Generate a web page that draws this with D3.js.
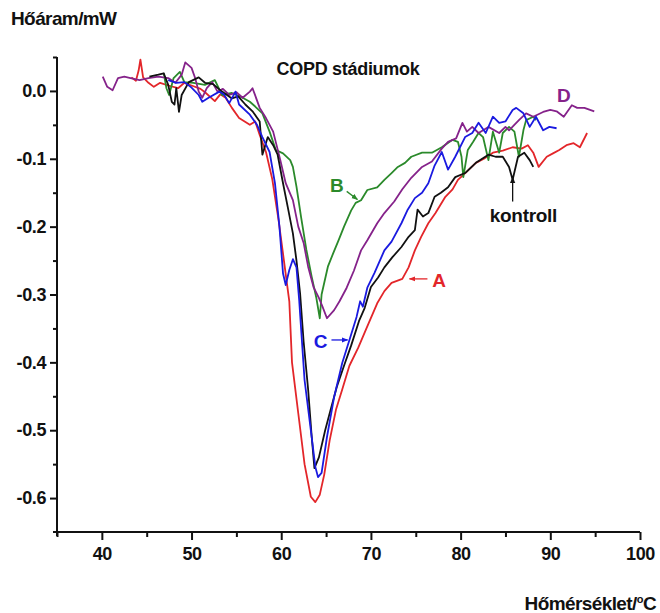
<!DOCTYPE html>
<html>
  <head>
    <meta charset="UTF-8">
    <script src="https://d3js.org/d3.v7.min.js"></script>
    <style>
      body { margin: 0; background: #fff; }
      text { font-family: "Liberation Sans", Arial, sans-serif; font-weight: bold; fill: #111; }
      .axis path, .axis line { stroke: #111; stroke-width: 2; }
      .series { fill: none; stroke-width: 1.8; stroke-linejoin: round; }
    </style>
    <title>COPD stádiumok</title>
  </head>
  <body>
    <svg id="chart" width="660" height="613"></svg>
    <script>
      // heat flow (mW) vs temperature (°C)
      const kontroll = [[45.3,0.021],[46.3,0.024],[46.9,0.026],[47.4,0.009],[47.8,-0.016],[48.1,-0.02],[48.3,0.004],[48.6,-0.031],[48.9,-0.006],[49.7,0.013],[50.8,0.02],[51.5,0.012],[52.4,0.01],[53.4,-0.001],[54.5,-0.011],[55.2,-0.008],[56,-0.02],[56.8,-0.03],[57.6,-0.045],[57.9,-0.094],[58.5,-0.068],[59.1,-0.08],[59.6,-0.094],[60.2,-0.136],[60.8,-0.176],[61.3,-0.21],[61.7,-0.25],[62.1,-0.298],[62.5,-0.37],[63,-0.44],[63.4,-0.51],[63.7,-0.556],[64.2,-0.54],[64.9,-0.5],[65.5,-0.47],[66.2,-0.436],[67,-0.405],[67.8,-0.375],[68.7,-0.338],[69.3,-0.32],[70,-0.289],[70.8,-0.275],[71.5,-0.26],[72.4,-0.245],[73.4,-0.23],[74.2,-0.215],[74.9,-0.205],[75.2,-0.175],[75.8,-0.185],[76.4,-0.18],[77.1,-0.156],[77.8,-0.15],[78.6,-0.142],[79.4,-0.127],[80.5,-0.121],[81.7,-0.106],[83.1,-0.094],[83.9,-0.097],[84.7,-0.097],[85.4,-0.112],[85.8,-0.131],[86.4,-0.097],[87.1,-0.091],[87.7,-0.102],[88.1,-0.112]];

      const stadiumA = [[43.3,0.02],[43.8,0.015],[44.1,0.03],[44.3,0.046],[44.6,0.02],[45.2,0.012],[45.8,0.006],[46.5,0.012],[47.4,0.008],[48.5,0.004],[49.2,0.012],[50,0.008],[51,0.003],[51.5,-0.002],[52.6,-0.015],[53.2,-0.005],[53.8,-0.01],[54.5,-0.025],[55.3,-0.04],[56.5,-0.05],[57.1,-0.045],[57.6,-0.065],[58.3,-0.09],[59,-0.13],[59.7,-0.19],[60.4,-0.26],[60.9,-0.31],[61.2,-0.4],[61.9,-0.475],[62.6,-0.55],[63.3,-0.598],[63.8,-0.606],[64.3,-0.595],[64.8,-0.565],[65.4,-0.515],[66.1,-0.47],[66.8,-0.44],[67.6,-0.405],[68.6,-0.378],[69.5,-0.35],[70.7,-0.313],[71.5,-0.295],[72.3,-0.283],[73.5,-0.277],[74.2,-0.26],[74.9,-0.235],[75.6,-0.215],[76.4,-0.195],[77.2,-0.18],[78.3,-0.156],[79.1,-0.145],[79.7,-0.131],[80.6,-0.12],[81.7,-0.106],[82.6,-0.1],[83.6,-0.091],[84.7,-0.088],[85.8,-0.083],[86.8,-0.085],[87.5,-0.08],[88.1,-0.091],[88.7,-0.112],[89.6,-0.097],[90.3,-0.092],[91,-0.087],[91.8,-0.08],[92.6,-0.077],[93.3,-0.083],[94.1,-0.062]];

      const stadiumB = [[46.9,0.026],[47.2,0.004],[47.5,-0.006],[48,0.019],[48.7,0.028],[49.2,0.013],[50.2,0.012],[51.5,0.009],[52.6,0.016],[53.4,-0.006],[54.5,-0.003],[55.7,-0.01],[56.5,-0.016],[57.1,-0.023],[57.9,-0.033],[58.7,-0.06],[59.4,-0.087],[60.2,-0.092],[61,-0.102],[61.3,-0.112],[61.7,-0.141],[62.2,-0.185],[62.8,-0.234],[63.4,-0.274],[63.9,-0.304],[64.3,-0.335],[64.5,-0.3],[65.2,-0.259],[65.8,-0.239],[66.4,-0.22],[67,-0.2],[67.8,-0.176],[68.3,-0.165],[68.9,-0.161],[69.6,-0.146],[70.7,-0.142],[71.5,-0.131],[72.3,-0.121],[73,-0.112],[73.8,-0.106],[74.5,-0.097],[75.7,-0.091],[76.8,-0.091],[77.9,-0.083],[79.1,-0.072],[79.7,-0.075],[80.1,-0.097],[80.3,-0.127],[80.8,-0.087],[81.4,-0.075],[82,-0.062],[82.5,-0.068],[83.1,-0.102],[83.6,-0.06],[84.3,-0.091],[84.7,-0.062],[85.4,-0.053],[86,-0.06],[86.5,-0.097],[87,-0.058],[87.3,-0.043],[88.1,-0.038],[88.4,-0.043]];

      const stadiumC = [[47.4,0.016],[48.3,0.012],[49.2,0.013],[50,0.005],[50.8,-0.006],[51.2,-0.016],[51.9,-0.01],[53.1,-0.001],[53.6,-0.005],[54.2,-0.018],[54.9,-0.001],[55.3,-0.02],[56.5,-0.035],[57.3,-0.05],[57.9,-0.068],[58.7,-0.09],[59.3,-0.136],[59.8,-0.2],[60.2,-0.269],[60.5,-0.286],[60.9,-0.264],[61.3,-0.248],[61.7,-0.26],[62,-0.308],[62.6,-0.426],[63.3,-0.5],[63.8,-0.554],[64.1,-0.569],[64.5,-0.563],[65.1,-0.51],[65.9,-0.451],[66.8,-0.401],[67.7,-0.363],[68.4,-0.333],[68.8,-0.31],[69.1,-0.318],[69.6,-0.29],[70.4,-0.268],[71.5,-0.235],[72.3,-0.222],[73.4,-0.195],[74.1,-0.175],[74.9,-0.158],[75.7,-0.15],[76.4,-0.136],[77.1,-0.11],[77.9,-0.09],[78.6,-0.116],[79.4,-0.097],[80.5,-0.068],[81.3,-0.062],[82,-0.047],[82.8,-0.062],[83.6,-0.038],[84.3,-0.047],[85,-0.045],[85.8,-0.028],[86.2,-0.025],[87,-0.033],[87.7,-0.053],[88.4,-0.038],[89.2,-0.058],[89.9,-0.053],[90.7,-0.055]];

      const stadiumD = [[40.1,0.021],[40.6,0.006],[41.2,0.001],[41.8,0.019],[42.5,0.021],[43.2,0.019],[44.2,0.016],[45.2,0.019],[46.3,0.021],[47.4,0.019],[48.2,0.012],[48.9,0.024],[49.3,0.042],[50,0.034],[50.4,0.019],[50.8,-0.001],[51.2,-0.01],[51.7,0.004],[52.3,0.013],[52.9,-0.001],[53.5,0.003],[54.2,-0.006],[55,-0.002],[55.7,-0.01],[56.5,-0.001],[56.8,0.004],[57.6,-0.025],[58.3,-0.04],[59.1,-0.06],[59.9,-0.102],[60.5,-0.136],[61.3,-0.161],[61.9,-0.2],[62.5,-0.224],[63,-0.259],[63.6,-0.289],[64.2,-0.305],[64.6,-0.318],[65.1,-0.335],[65.9,-0.323],[66.5,-0.31],[67.3,-0.29],[68.1,-0.265],[68.9,-0.235],[69.6,-0.22],[70.7,-0.195],[71.5,-0.18],[72.6,-0.163],[73.5,-0.145],[74.5,-0.128],[75.7,-0.112],[76.8,-0.104],[77.9,-0.085],[78.6,-0.075],[79.5,-0.07],[80.2,-0.047],[80.7,-0.06],[81.3,-0.053],[82,-0.062],[83.1,-0.053],[84.3,-0.062],[85,-0.053],[85.4,-0.058],[86.5,-0.043],[87.3,-0.033],[88.1,-0.038],[89.2,-0.031],[90,-0.028],[90.7,-0.03],[91.5,-0.038],[92.4,-0.021],[93,-0.025],[93.8,-0.025],[94.9,-0.03]];

      const seriesNames = ["kontroll", "A", "B", "C", "D"];
      const seriesColors = ["#111111", "#e3262a", "#2b8a2b", "#1a1ae0", "#85228a"];

      const xTicks = [40, 50, 60, 70, 80, 90, 100];
      const xMinorTicks = [35, 45, 55, 65, 75, 85, 95];
      const yTicks = [0.0, -0.1, -0.2, -0.3, -0.4, -0.5, -0.6];
      const yMinorTicks = [0.05, -0.05, -0.15, -0.25, -0.35, -0.45, -0.55];

      // label text, label position, arrow start, arrow end (data units)
      const labelText = ["kontroll", "A", "B", "C", "D"];
      const labelPos = [[87.0,-0.183],[77.6,-0.279],[66.2,-0.139],[64.4,-0.369],[91.5,-0.006]];
      const arrowFrom = [[85.8,-0.163],[76.3,-0.277],[67.3,-0.148],[65.6,-0.367],null];
      const arrowTo = [[85.8,-0.127],[74.3,-0.277],[68.5,-0.16],[67.4,-0.367],null];

      const svg = d3.select("svg#chart");
      const margin = {"top": 57, "left": 57, "right": 20, "bottom": 81};
      const width = +svg.attr("width");
      const height = +svg.attr("height");

      const xScale = d3.scaleLinear().domain([35, 100]).range([margin.left, 640]);
      const yScale = d3.scaleLinear().domain([0.05, -0.65]).range([margin.top, height - margin.bottom]);

      svg.append("defs").selectAll("marker")
         .data(seriesColors)
         .join("marker")
         .attr("id", (d, i) => "arrow" + i)
         .attr("viewBox", "0 0 10 10")
         .attr("refX", 9).attr("refY", 5)
         .attr("markerWidth", 5).attr("markerHeight", 5)
         .attr("orient", "auto")
         .append("path")
         .attr("d", "M0,1 L10,5 L0,9 z")
         .attr("fill", d => d);

      // axes
      const x_axis = d3.axisBottom(xScale).tickValues(xTicks).tickSize(8).tickPadding(7).tickFormat(d3.format("d"));
      svg.append("g")
         .attr("class", "axis")
         .attr("transform", "translate(0," + yScale(-0.65) + ")")
         .call(x_axis)
         .call(g => g.select(".domain").attr("d", "M" + (margin.left - 4) + ",0H" + xScale(100)));

      svg.append("g")
         .attr("class", "axis")
         .attr("transform", "translate(0," + yScale(-0.65) + ")")
         .call(d3.axisBottom(xScale).tickValues(xMinorTicks).tickSize(5).tickFormat(""))
         .call(g => g.select(".domain").remove());

      const y_axis = d3.axisLeft(yScale).tickValues(yTicks).tickSize(7).tickPadding(4).tickFormat(d3.format(".1f"));
      svg.append("g")
         .attr("class", "axis")
         .attr("transform", "translate(" + margin.left + ",0)")
         .call(y_axis)
         .call(g => g.select(".domain").attr("d", "M0," + yScale(0.05) + "V" + (yScale(-0.65) + 4)));

      svg.append("g")
         .attr("class", "axis")
         .attr("transform", "translate(" + margin.left + ",0)")
         .call(d3.axisLeft(yScale).tickValues(yMinorTicks).tickSize(4).tickFormat(""))
         .call(g => g.select(".domain").remove());

      svg.selectAll(".axis text")
         .attr("font-family", null)
         .style("font-size", "18px")
         .style("letter-spacing", "-0.4px")
         .text(function () { return this.textContent.replace("\u2212", "-"); });

      // curves
      const line = d3.line().x(d => xScale(d[0])).y(d => yScale(d[1]));
      const allSeries = [kontroll, stadiumA, stadiumB, stadiumC, stadiumD];
      const drawOrder = [1, 2, 4, 0, 3];
      svg.append("g").selectAll("path")
         .data(drawOrder)
         .join("path")
         .attr("class", "series")
         .attr("stroke", i => seriesColors[i])
         .attr("d", i => line(allSeries[i]));

      // annotations
      const ann = svg.append("g");
      ann.selectAll("line")
         .data(d3.range(labelText.length).filter(i => arrowFrom[i]))
         .join("line")
         .attr("x1", i => xScale(arrowFrom[i][0]))
         .attr("y1", i => yScale(arrowFrom[i][1]))
         .attr("x2", i => xScale(arrowTo[i][0]))
         .attr("y2", i => yScale(arrowTo[i][1]))
         .attr("stroke", i => seriesColors[i])
         .attr("stroke-width", 1.3)
         .attr("marker-end", i => "url(#arrow" + i + ")");

      ann.selectAll("text")
         .data(d3.range(labelText.length))
         .join("text")
         .attr("x", i => xScale(labelPos[i][0]))
         .attr("y", i => yScale(labelPos[i][1]))
         .attr("dy", "0.35em")
         .attr("text-anchor", "middle")
         .style("font-size", "19px")
         .style("letter-spacing", i => i === 0 ? "-0.3px" : "0px")
         .style("fill", i => i === 0 ? "#111" : seriesColors[i])
         .text(i => labelText[i]);

      // titles
      svg.append("text")
         .attr("x", 348).attr("y", 75)
         .attr("text-anchor", "middle")
         .style("font-size", "18px")
         .style("letter-spacing", "-0.3px")
         .text("COPD stádiumok");

      svg.append("text")
         .attr("x", 11).attr("y", 25)
         .style("font-size", "19px")
         .style("letter-spacing", "-0.6px")
         .text("Hőáram/mW");

      const xTitle = svg.append("text")
         .attr("x", 656).attr("y", 610)
         .attr("text-anchor", "end")
         .style("font-size", "19px")
         .style("letter-spacing", "-0.6px");
      xTitle.append("tspan").text("Hőmérséklet/");
      xTitle.append("tspan").attr("dy", "-7").style("font-size", "11px").text("o");
      xTitle.append("tspan").attr("dy", "7").text("C");
    </script>
  </body>
</html>
